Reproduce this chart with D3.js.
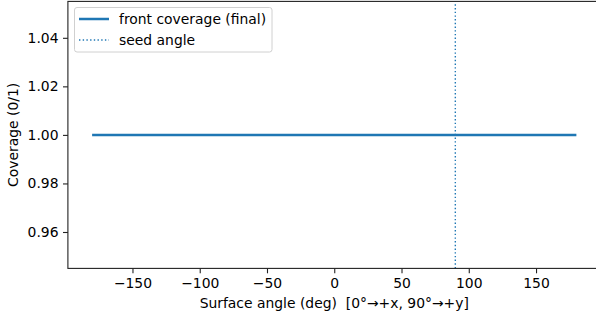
<!DOCTYPE html>
<html><head><meta charset="utf-8">
<script src="https://cdn.jsdelivr.net/npm/d3@7"></script>
<style>body{margin:0;background:#fff}svg{display:block}text{font-family:"DejaVu Sans",sans-serif;fill:#000;white-space:pre}</style>
</head><body>
<script>
const angles = [-180, 180];
const coverage = [1.0, 1.0];
const seedAngle = [90];
const xTicks = [-150, -100, -50, 0, 50, 100, 150];
const yTicks = [0.96, 0.98, 1.00, 1.02, 1.04];
const legendLabels = ["front coverage (final)", "seed angle"];

const W = 596, H = 320;
const svg = d3.select("body").append("svg").attr("width", W).attr("height", H);
const x = d3.scaleLinear().domain([-198, 198]).range([67.9, 600.6]);
const y = d3.scaleLinear().domain([0.945, 1.055]).range([268.4, 1.4]);
const blue = "#1f77b4";
const fs = 13.9;

// line
const pts = angles.map((a, i) => [a, coverage[i]]);
svg.append("path").datum(pts)
  .attr("d", d3.line().x(d => x(d[0])).y(d => y(d[1])))
  .attr("fill", "none").attr("stroke", blue).attr("stroke-width", 2.5);

// seed line
svg.selectAll(".seed").data(seedAngle).enter().append("line")
  .attr("x1", d => x(d)).attr("x2", d => x(d))
  .attr("y1", y.range()[0]).attr("y2", y.range()[1])
  .attr("stroke", blue).attr("stroke-width", 1.4).attr("stroke-dasharray", "1.4,2.3");

// axes
const xAxis = d3.axisBottom(x).tickValues(xTicks).tickSize(4.9).tickPadding(4.5)
  .tickFormat(d => d < 0 ? "\u2212" + Math.abs(d) : String(d));
const gx = svg.append("g").attr("transform", `translate(0,${y.range()[0]})`).call(xAxis);
const yAxis = d3.axisLeft(y).tickValues(yTicks).tickSize(4.9).tickPadding(4.5)
  .tickFormat(d3.format(".2f"));
const gy = svg.append("g").attr("transform", `translate(${x.range()[0]},0)`).call(yAxis);
[gx, gy].forEach(g => {
  g.select(".domain").remove();
  g.selectAll("text").attr("font-size", fs).attr("font-family", "DejaVu Sans").attr("fill", "#000");
  g.selectAll("line").attr("stroke", "#222").attr("stroke-width", 1.1);
});

// frame
svg.append("rect").attr("x", x.range()[0]).attr("y", y.range()[1])
  .attr("width", x.range()[1] - x.range()[0]).attr("height", y.range()[0] - y.range()[1])
  .attr("fill", "none").attr("stroke", "#222").attr("stroke-width", 1.1);

// labels
svg.append("text").attr("x", (x.range()[0] + x.range()[1]) / 2).attr("y", 307.5)
  .attr("text-anchor", "middle").attr("font-size", fs).attr("xml:space", "preserve")
  .text("Surface angle (deg)  [0\u00b0\u2192+x, 90\u00b0\u2192+y]");
svg.append("text").attr("transform", `translate(18,${(y.range()[0] + y.range()[1]) / 2}) rotate(-90)`)
  .attr("text-anchor", "middle").attr("font-size", fs).text("Coverage (0/1)");

// legend
const lg = svg.append("g");
lg.append("rect").attr("x", 74.5).attr("y", 7.5).attr("width", 197.5).attr("height", 44.5)
  .attr("rx", 2.5).attr("fill", "#fff").attr("fill-opacity", 0.8).attr("stroke", "#d0d0d0").attr("stroke-width", 1);
const rows = lg.selectAll(".row").data(legendLabels).enter().append("g")
  .attr("transform", (d, i) => `translate(0,${19 + i * 21})`);
rows.append("line").attr("x1", 79).attr("x2", 109).attr("y1", 0).attr("y2", 0)
  .attr("stroke", blue)
  .attr("stroke-width", (d, i) => i === 0 ? 2.5 : 1.4)
  .attr("stroke-dasharray", (d, i) => i === 0 ? null : "1.4,2.3");
rows.append("text").attr("x", 119).attr("y", 0).attr("dy", "0.35em")
  .attr("font-size", fs).text(d => d);
</script>
</body></html>
